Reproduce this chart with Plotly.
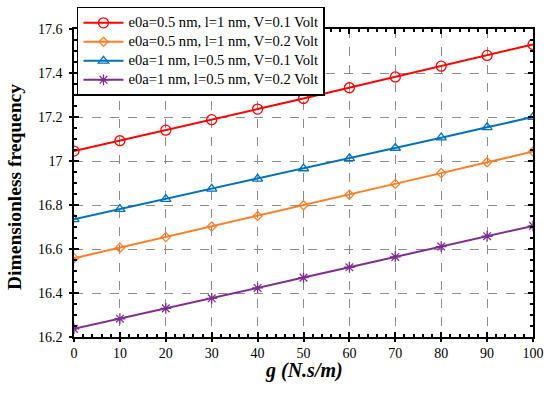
import plotly.graph_objects as go

g = [0, 10, 20, 30, 40, 50, 60, 70, 80, 90, 100]
red = [17.045, 17.092, 17.140, 17.188, 17.236, 17.284, 17.333, 17.382, 17.431, 17.480, 17.530]
orange = [16.558, 16.606, 16.654, 16.702, 16.750, 16.799, 16.847, 16.896, 16.945, 16.994, 17.043]
blue = [16.735, 16.781, 16.827, 16.873, 16.919, 16.966, 17.012, 17.059, 17.106, 17.153, 17.200]
purple = [16.237, 16.283, 16.330, 16.376, 16.423, 16.470, 16.517, 16.564, 16.611, 16.658, 16.705]

x_ticks = [0, 10, 20, 30, 40, 50, 60, 70, 80, 90, 100]
y_ticks = [16.2, 16.4, 16.6, 16.8, 17.0, 17.2, 17.4, 17.6]
y_tick_text = ["16.2", "16.4", "16.6", "16.8", "17", "17.2", "17.4", "17.6"]

names = ["e0a=0.5 nm, l=1 nm, V=0.1 Volt",
         "e0a=0.5 nm, l=1 nm, V=0.2 Volt",
         "e0a=1 nm, l=0.5 nm, V=0.1 Volt",
         "e0a=1 nm, l=0.5 nm, V=0.2 Volt"]
x_title = "g (N.s/m)"
y_title = "Dimensionless frequency"

series = [
    (red, "#ff0000", "circle-open", 10),
    (orange, "#ff7f27", "diamond-open", 7),
    (blue, "#0072bd", "triangle-up-open", 9),
    (purple, "#7e2f8e", "asterisk-open", 9),
]

fig = go.Figure()
for (ys, col, sym, sz), nm in zip(series, names):
    fig.add_trace(go.Scatter(
        x=g, y=ys, name='<span style="font-size:14.6px">' + nm + '</span>',
        mode="lines+markers",
        line=dict(color=col, width=2),
        marker=dict(symbol=sym, size=sz, color=col, line=dict(color=col, width=1.3)),
    ))

# invisible helper trace for the overlay axes (outer tick marks)
fig.add_trace(go.Scatter(x=[], y=[], xaxis="x2", yaxis="y2", showlegend=False, hoverinfo="skip"))

font = "Liberation Serif, Times New Roman, serif"
grid = dict(showgrid=True, gridcolor="#8c8c8c", griddash="dash", gridwidth=1)
fig.update_layout(
    width=550, height=395,
    margin=dict(l=74, r=17, t=29, b=58, autoexpand=False),
    paper_bgcolor="white", plot_bgcolor="white",
    font=dict(family=font, size=14, color="black"),
    showlegend=True,
    legend=dict(x=0.0065, y=1.072, xanchor="left", yanchor="top",
                bgcolor="white", bordercolor="black", borderwidth=1.5,
                font=dict(family=font, size=11.5, color="black"),
                tracegroupgap=0, itemwidth=40,
                entrywidth=223, entrywidthmode="pixels"),
    xaxis=dict(
        range=[0, 100], tickvals=x_ticks, **grid,
        ticks="inside", ticklen=5, tickwidth=1.5, tickcolor="black",
        ticklabelstandoff=2,
        minor=dict(dtick=2, ticks="inside", ticklen=3, tickcolor="black", showgrid=False),
        showline=True, linecolor="black", linewidth=1.5, mirror="ticks",
        zeroline=False, automargin=False,
    ),
    yaxis=dict(
        range=[16.2, 17.6], tickvals=y_ticks, ticktext=y_tick_text, **grid,
        ticks="inside", ticklen=5, tickwidth=1.5, tickcolor="black",
        ticklabelstandoff=7,
        minor=dict(dtick=0.05, ticks="inside", ticklen=3, tickcolor="black", showgrid=False),
        showline=True, linecolor="black", linewidth=1.5, mirror="ticks",
        zeroline=False, automargin=False,
    ),
    xaxis2=dict(range=[0, 100], tickvals=x_ticks, overlaying="x", anchor="y2", side="bottom",
                ticks="outside", ticklen=4, tickwidth=1.5, tickcolor="black",
                showticklabels=False, showgrid=False, showline=False, zeroline=False),
    yaxis2=dict(range=[16.2, 17.6], tickvals=y_ticks, overlaying="y", anchor="x2", side="left",
                ticks="outside", ticklen=4, tickwidth=1.5, tickcolor="black",
                showticklabels=False, showgrid=False, showline=False, zeroline=False),
    annotations=[
        dict(text="<b><i>" + x_title + "</i></b>", xref="paper", yref="paper",
             x=0.5, y=-0.11, xanchor="center", yanchor="middle", showarrow=False,
             font=dict(family=font, size=20, color="black")),
        dict(text="<b>" + y_title + "</b>", xref="paper", yref="paper",
             x=-0.1307, y=0.487, xanchor="center", yanchor="middle", showarrow=False,
             textangle=-90, font=dict(family=font, size=19.5, color="black")),
    ],
)

fig.write_html("out.html", config={"displayModeBar": False},
               post_script="document.body.style.margin='0';")
